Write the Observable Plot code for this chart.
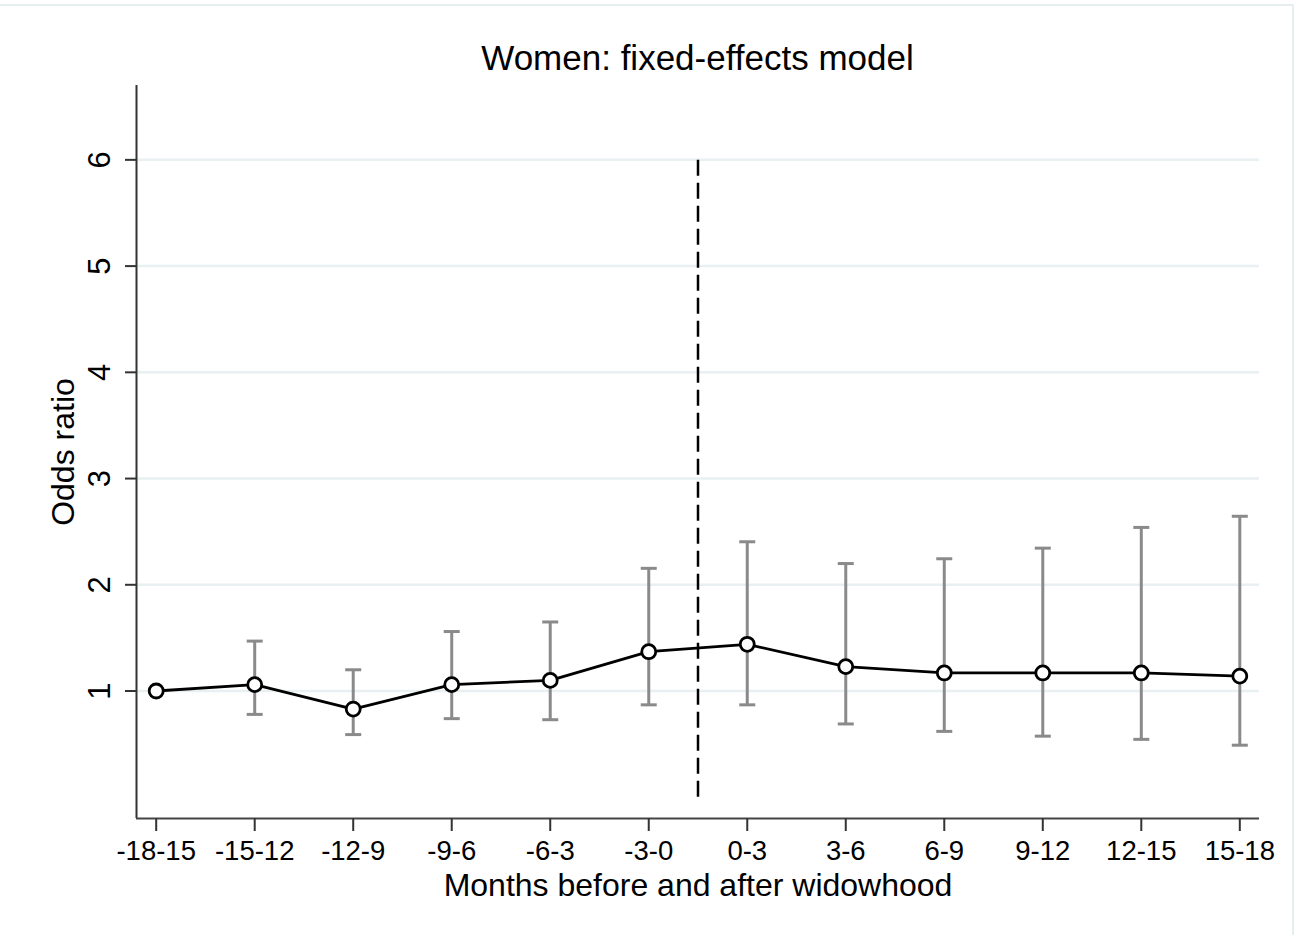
<!DOCTYPE html>
<html>
<head>
<meta charset="utf-8">
<script src="https://cdn.jsdelivr.net/npm/d3@7"></script>
<script src="https://cdn.jsdelivr.net/npm/@observablehq/plot@0.6"></script>
<style>
  html, body { margin: 0; padding: 0; background: #ffffff; }
  #wrap { position: relative; width: 1295px; height: 935px; overflow: hidden; font-family: "Liberation Sans", Arial, sans-serif; }
  #border { position: absolute; left: -4px; top: 4px; width: 1298px; height: 940px; border-top: 2px solid #e7eef0; border-right: 2px solid #e7eef0; box-sizing: border-box; }
  #title { position: absolute; left: 136px; width: 1123px; top: 38px; text-align: center; font-size: 35px; line-height: 40px; color: #000; }
  #chart { position: absolute; left: 0; top: 0; }
</style>
</head>
<body>
<div id="wrap">
  <div id="border"></div>
  <div id="chart"></div>
  <div id="title">Women: fixed-effects model</div>
</div>
<script>
// ---- data ----
const periods = ["-18-15", "-15-12", "-12-9", "-9-6", "-6-3", "-3-0", "0-3", "3-6", "6-9", "9-12", "12-15", "15-18"];
const oddsRatio = [1.00, 1.06, 0.83, 1.06, 1.10, 1.37, 1.44, 1.23, 1.17, 1.17, 1.17, 1.14];
const ciLower   = [null, 0.78, 0.59, 0.74, 0.73, 0.87, 0.87, 0.69, 0.62, 0.575, 0.545, 0.49];
const ciUpper   = [null, 1.47, 1.20, 1.56, 1.65, 2.155, 2.405, 2.20, 2.245, 2.345, 2.54, 2.645];
const yTicks = [1, 2, 3, 4, 5, 6];
const widowhoodAt = 5.5;          // between "-3-0" and "0-3"
const refLineRange = [0, 6];
const yTitle = "Odds ratio";
const xTitle = "Months before and after widowhood";

const rows = periods.map((p, i) => ({i, period: p, or: oddsRatio[i], lo: ciLower[i], hi: ciUpper[i]}));
const ciRows = rows.filter(d => d.lo != null);

const capSymbol = {
  draw(context, size) {
    const w = Math.sqrt(size / Math.PI);
    context.moveTo(-w, 0);
    context.lineTo(w, 0);
  }
};

const chart = Plot.plot({
  width: 1295,
  height: 935,
  marginLeft: 136,
  marginRight: 36,
  marginTop: 85,
  marginBottom: 117,
  style: {fontFamily: "'Liberation Sans', Arial, sans-serif", background: "transparent", overflow: "visible"},
  x: {type: "linear", domain: [-0.2, 11.2], axis: null},
  y: {type: "linear", domain: [-0.2, 6.7], axis: null},
  marks: [
    Plot.gridY(yTicks, {stroke: "#e8f0f2", strokeOpacity: 1, strokeWidth: 2.5}),
    Plot.ruleX([-0.2], {stroke: "#333", strokeWidth: 2}),
    Plot.ruleY([-0.2], {stroke: "#444", strokeWidth: 2}),
    Plot.axisY(yTicks, {anchor: "left", tickSize: 11, tickFormat: () => "", stroke: "#333", strokeWidth: 2, label: null}),
    Plot.text(yTicks, {y: d => d, text: d => String(d), frameAnchor: "left", rotate: -90, textAnchor: "middle", lineAnchor: "bottom", dx: -27, fontSize: 31, fill: "#000"}),
    Plot.axisX(d3.range(periods.length), {anchor: "bottom", tickSize: 13, tickPadding: 9, tickFormat: i => periods[i], fontSize: 27.5, stroke: "#333", strokeWidth: 2, fill: "#000", label: null}),
    Plot.text([xTitle], {frameAnchor: "bottom", lineAnchor: "bottom", dy: 77, fontSize: 32, fill: "#000"}),
    Plot.text([yTitle], {frameAnchor: "left", rotate: -90, textAnchor: "middle", lineAnchor: "bottom", dx: -63, fontSize: 32, fill: "#000"}),
    Plot.ruleX([widowhoodAt], {y1: refLineRange[0], y2: refLineRange[1], stroke: "#000", strokeWidth: 2.5, strokeDasharray: "16,7"}),
    Plot.ruleX(ciRows, {x: "i", y1: "lo", y2: "hi", stroke: "#8a8a8a", strokeWidth: 3}),
    Plot.dot(ciRows, {x: "i", y: "lo", symbol: capSymbol, r: 8, stroke: "#8a8a8a", strokeWidth: 3, fill: "none"}),
    Plot.dot(ciRows, {x: "i", y: "hi", symbol: capSymbol, r: 8, stroke: "#8a8a8a", strokeWidth: 3, fill: "none"}),
    Plot.line(rows, {x: "i", y: "or", stroke: "#000", strokeWidth: 2.8}),
    Plot.dot(rows, {x: "i", y: "or", r: 7, fill: "#fff", stroke: "#000", strokeWidth: 2.8})
  ]
});
document.getElementById("chart").appendChild(chart);
</script>
</body>
</html>
